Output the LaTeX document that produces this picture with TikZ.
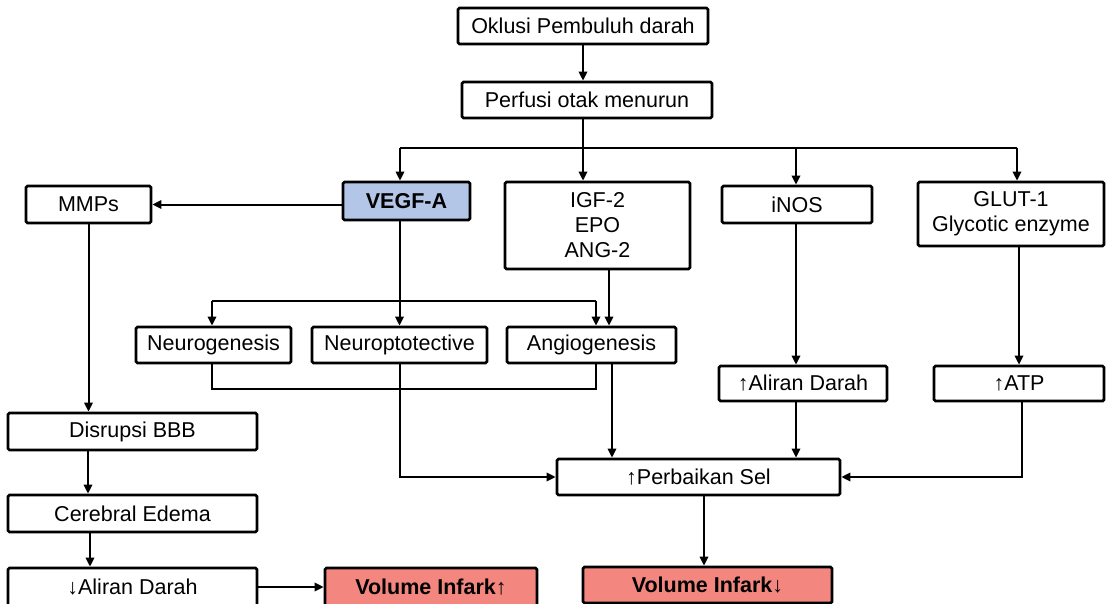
\documentclass[tikz,border=0pt]{standalone}
\usepackage{fontspec}
\setmainfont{Liberation Sans}
\usetikzlibrary{arrows.meta}
\definecolor{vegfblue}{RGB}{180,198,231}
\definecolor{infark}{RGB}{243,134,126}
\begin{document}
\begin{tikzpicture}[x=1pt,y=-1pt,
  box/.style={draw=black, line width=2.8pt, rounded corners=1.5pt, inner sep=0pt,
    font=\fontsize{21.5}{25}\selectfont, align=center},
  boldbox/.style={box, font=\fontsize{21.5}{25}\selectfont\bfseries},
  line/.style={draw=black, line width=2pt},
  arr/.style={line, -{Triangle[length=9pt,width=8.5pt]}}]
\useasboundingbox (0,0) rectangle (1107,604);
\clip (0,0) rectangle (1107,604);
% nodes
\node[box, minimum width=250pt, minimum height=36pt] (okl) at (583,26) {Oklusi Pembuluh darah};
\node[box, minimum width=250pt, minimum height=36pt] (perf) at (587,100) {Perfusi otak menurun};
\node[boldbox, fill=vegfblue, minimum width=127pt, minimum height=38pt] (vegf) at (406.5,201) {VEGF-A};
\node[box, minimum width=185pt, minimum height=87pt] (igf) at (597.5,225.5) {IGF-2\\EPO\\ANG-2};
\node[box, minimum width=150pt, minimum height=37pt] (inos) at (797,204.5) {iNOS};
\node[box, minimum width=186pt, minimum height=64pt] (glut) at (1011,214) {GLUT-1\\Glycotic enzyme};
\node[box, minimum width=125pt, minimum height=37pt] (mmps) at (88.5,204.5) {MMPs};
\node[box, minimum width=155pt, minimum height=36pt] (neurog) at (213.5,345) {Neurogenesis};
\node[box, minimum width=175pt, minimum height=36pt] (neup) at (399.5,345) {Neuroptotective};
\node[box, minimum width=169pt, minimum height=36pt] (ange) at (591.5,345) {Angiogenesis};
\node[box, minimum width=168pt, minimum height=35pt] (alu) at (803,383.5) {↑Aliran Darah};
\node[box, minimum width=170pt, minimum height=35pt] (atp) at (1019,383.5) {↑ATP};
\node[box, minimum width=283pt, minimum height=36pt] (perb) at (698.5,477) {↑Perbaikan Sel};
\node[boldbox, fill=infark, minimum width=249pt, minimum height=36pt] (vid) at (707.5,585) {Volume Infark↓};
\node[box, minimum width=249pt, minimum height=37pt] (dis) at (132.5,431.5) {Disrupsi BBB};
\node[box, minimum width=249pt, minimum height=37pt] (cer) at (132.5,513.5) {Cerebral Edema};
\node[box, minimum width=249pt, minimum height=38pt] (ald) at (132.5,587) {↓Aliran Darah};
\node[boldbox, fill=infark, minimum width=212pt, minimum height=38pt] (viu) at (431,587) {Volume Infark↑};
% helper coordinates
\coordinate (bL) at (400,148);
\coordinate (bR) at (1017,148);
\coordinate (cL) at (212,301);
\coordinate (cR) at (596,301);
\coordinate (cB) at (596,389);
\coordinate (xigf) at (609,0);
\coordinate (xang) at (612,0);
\coordinate (xino) at (796,0);
\coordinate (xvid) at (704,0);
\coordinate (xl1) at (88,0);
\coordinate (xl2) at (90,0);
% connectors
\draw[arr] (okl.south) -- (okl.south |- perf.north);
\draw[line] (okl.south |- perf.south) -- (okl.south |- bL);
\draw[line] (bL) -- (bR);
\draw[arr] (bL) -- (bL |- vegf.north);
\draw[arr] (okl.south |- bL) -- (okl.south |- igf.north);
\draw[arr] (bL -| xino) -- (xino |- inos.north);
\draw[arr] (bR) -- (bR |- glut.north);
\draw[arr] (mmps.east -| vegf.west) -- (mmps.east);
\draw[arr] (mmps.south) -- (mmps.south |- dis.north);
\draw[arr] (neup.north |- vegf.south) -- (neup.north);
\draw[line] (cL) -- (cR);
\draw[arr] (cL) -- (cL |- neurog.north);
\draw[arr] (cR) -- (cR |- ange.north);
\draw[arr] (xigf |- igf.south) -- (xigf |- ange.north);
\draw[line] (cL |- neurog.south) |- (cB) -- (cB |- ange.south);
\draw[arr] (neup.south) |- (perb.west);
\draw[arr] (xang |- ange.south) -- (xang |- perb.north);
\draw[arr] (xino |- inos.south) -- (xino |- alu.north);
\draw[arr] (xino |- alu.south) -- (xino |- perb.north);
\draw[arr] (atp.north |- glut.south) -- (atp.north);
\draw[arr] ([xshift=3pt]atp.south) |- (perb.east);
\draw[arr] (xvid |- perb.south) -- (xvid |- vid.north);
\draw[arr] (xl1 |- dis.south) -- (xl1 |- cer.north);
\draw[arr] (xl2 |- cer.south) -- (xl2 |- ald.north);
\draw[arr] (ald.east) -- (viu.west);
\end{tikzpicture}
\end{document}
